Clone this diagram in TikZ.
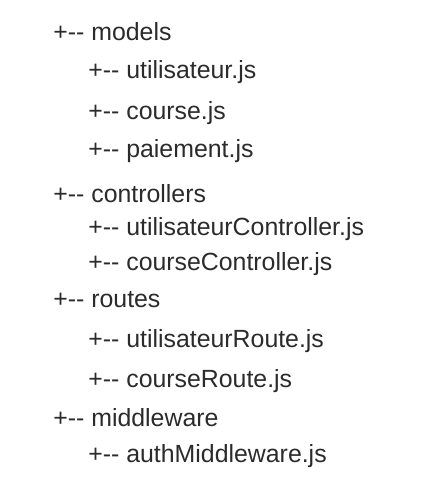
\documentclass[tikz,border=0pt]{standalone}
\usepackage{fontspec}
\setmainfont[Ligatures=NoCommon]{Liberation Sans}
\usepackage{xcolor}
\usepackage{tikz}
\definecolor{treetext}{HTML}{2B2B2B}

\begin{document}
\begin{tikzpicture}[
    folder/.style={anchor=base west, inner sep=0pt, text=treetext, font=\fontsize{14.15}{16}\selectfont},
    file/.style={folder}
]
\useasboundingbox (0,0) rectangle (8.46,-9.82);

% Folders
\node[folder] (models) at (1.06,-0.82) {+{-}{-} models};
\node[folder] (controllers) at (1.06,-4.04) {+{-}{-} controllers};
\node[folder] (routes) at (1.06,-6.14) {+{-}{-} routes};
\node[folder] (middleware) at (1.06,-8.52) {+{-}{-} middleware};

% Files
\node[file] (utilisateur) at (1.76,-1.58) {+{-}{-} utilisateur.js};
\node[file] (course) at (1.76,-2.40) {+{-}{-} course.js};
\node[file] (paiement) at (1.76,-3.16) {+{-}{-} paiement.js};
\node[file] (utilisateurCtrl) at (1.76,-4.70) {+{-}{-} utilisateurController.js};
\node[file] (courseCtrl) at (1.76,-5.40) {+{-}{-} courseController.js};
\node[file] (utilisateurRoute) at (1.76,-6.94) {+{-}{-} utilisateurRoute.js};
\node[file] (courseRoute) at (1.76,-7.74) {+{-}{-} courseRoute.js};
\node[file] (authMw) at (1.76,-9.24) {+{-}{-} authMiddleware.js};

\end{tikzpicture}
\end{document}
